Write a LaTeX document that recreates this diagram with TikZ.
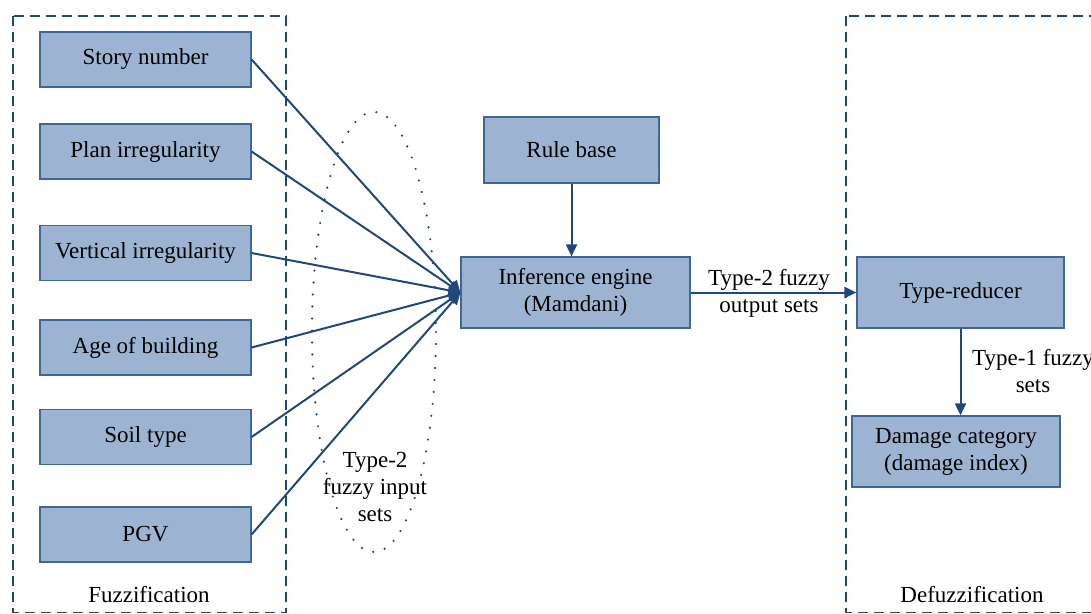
\documentclass[tikz,border=0pt]{standalone}
\usepackage{fontspec}
\setmainfont{Liberation Serif}
\usetikzlibrary{arrows.meta}
\definecolor{boxfill}{RGB}{157,179,210}
\definecolor{boxline}{RGB}{65,101,150}
\definecolor{flowline}{RGB}{31,73,125}
\tikzset{block/.style={draw=boxline,fill=boxfill,line width=1.2pt,minimum height=55pt,inner sep=0pt,align=center,font=\fontsize{23}{27}\selectfont}}
\tikzset{note/.style={align=center,inner sep=0pt,font=\fontsize{23}{27}\selectfont}}
\tikzset{flow/.style={draw=flowline,line width=2pt,-{Triangle[length=12pt,width=11pt]}}}
\tikzset{stage/.style={draw=flowline,line width=1.5pt,dash pattern=on 10pt off 6pt}}

\begin{document}
\begin{tikzpicture}[x=1pt,y=-1pt]
\useasboundingbox (0,0) rectangle (1091,613);

% Stage Boxes
\draw[stage] (13,16) rectangle (286,612.5);
\draw[stage] (846,16) rectangle (1120,612.5);

% Fuzzy input set
\draw[flowline,line width=2.4pt,line cap=round,dash pattern=on 0pt off 12pt] (374,332) ellipse [x radius=62, y radius=220];

% Input Variables
\node[block,minimum width=211pt] (story) at (145.5,59.5) {Story number};
\node[block,minimum width=211pt] (plan) at (145.5,151.5) {Plan irregularity};
\node[block,minimum width=211pt] (vert) at (145.5,253) {Vertical irregularity};
\node[block,minimum width=211pt] (age) at (145.5,347.5) {Age of building};
\node[block,minimum width=211pt] (soil) at (145.5,437) {Soil type};
\node[block,minimum width=211pt] (pgv) at (145.5,534.5) {PGV};

% Fuzzy System
\node[block,minimum width=175pt,minimum height=66pt] (rule) at (571.5,150) {Rule base};
\node[block,minimum width=229pt,minimum height=71pt] (infer) at (575.5,292.5) {Inference engine\\(Mamdani)};
\node[block,minimum width=207pt,minimum height=71pt] (reducer) at (960.5,292.5) {Type-reducer};
\node[block,minimum width=208pt,minimum height=71pt] (damage) at (956,451.5) {Damage category\\(damage index)};

% Data Flow
\foreach \n in {story,plan,vert,age,soil,pgv}
  \draw[flow] (\n.east) -- (infer.west);
\draw[flow] (rule.south) -- (rule.south |- infer.north);
\draw[flow] (infer) -- (reducer);
\draw[flow] (reducer.south) -- (reducer.south |- damage.north);

% Labeling
\node[note] (inlabel) at (375,487) {Type-2\\fuzzy input\\sets};
\node[note] (outlabel) at (769,293) {Type-2 fuzzy\\output sets};
\node[note] (t1label) at (1033,371) {Type-1 fuzzy\\sets};
\node[note] (fuzz) at (149,595) {Fuzzification};
\node[note] (defuzz) at (972,595) {Defuzzification};

\end{tikzpicture}
\end{document}
